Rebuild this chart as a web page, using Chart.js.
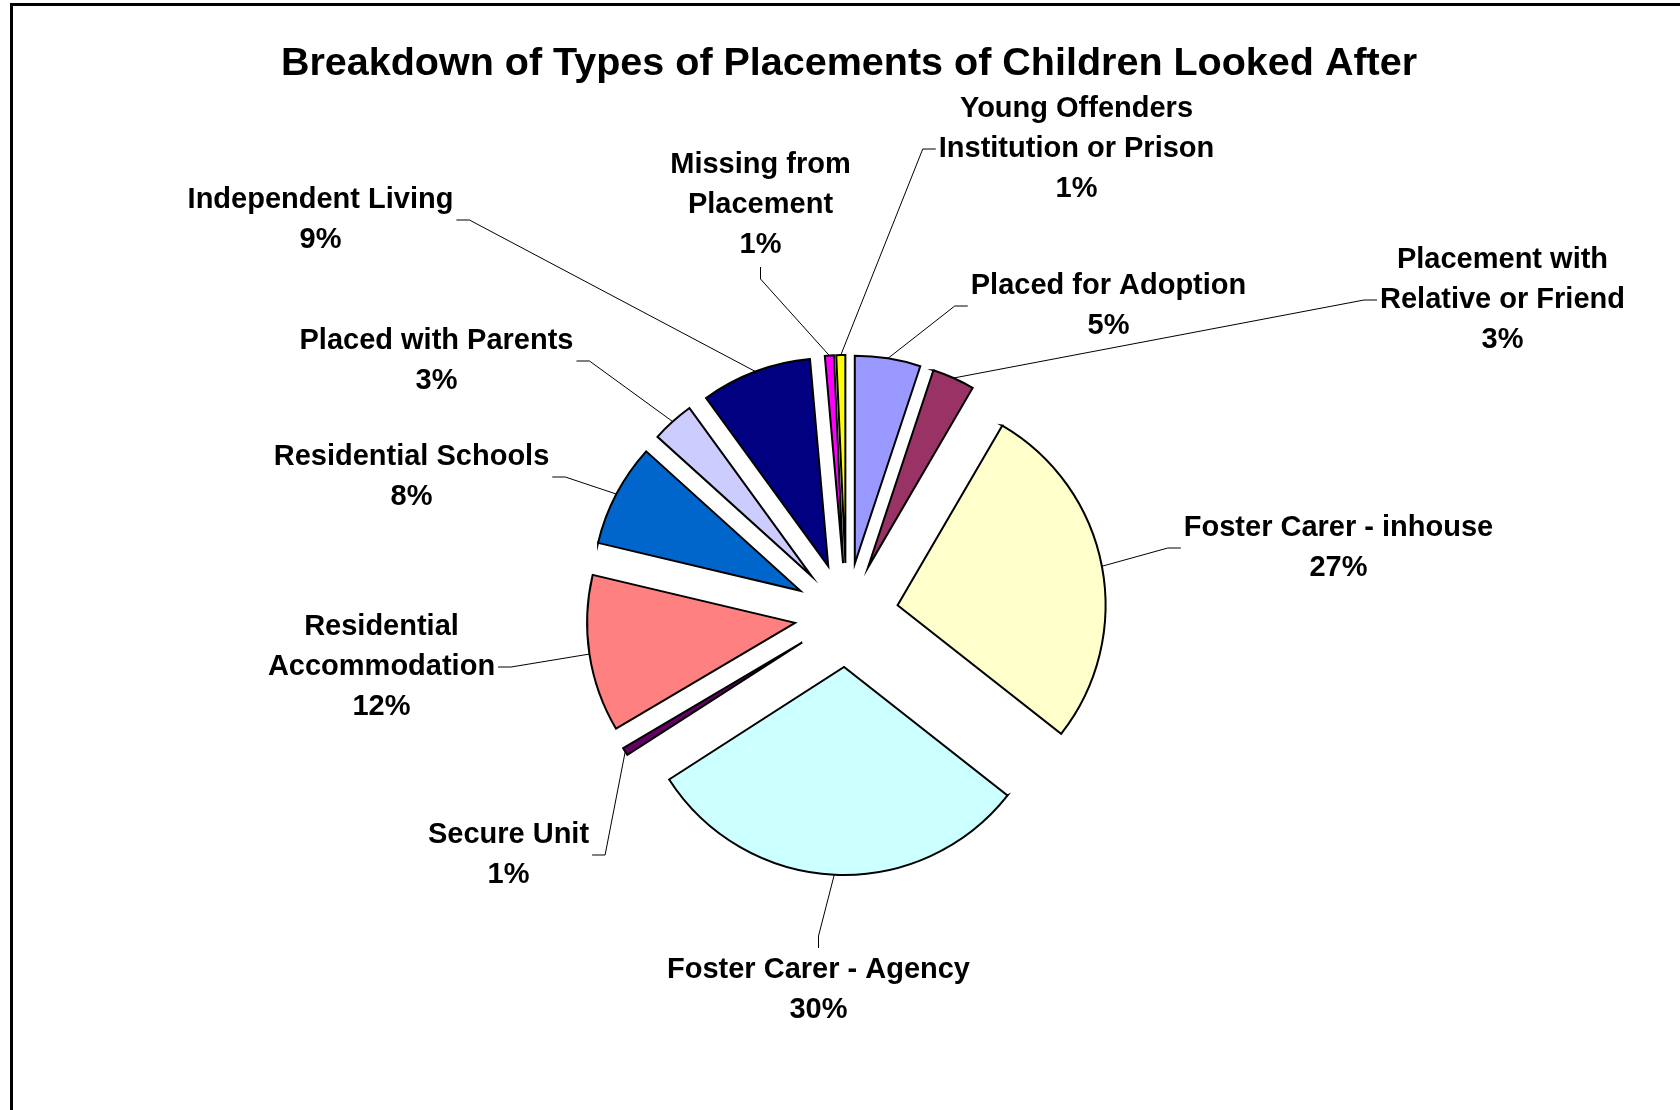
<!DOCTYPE html>
<html lang="en">
<head>
    <meta charset="UTF-8">
    <title>Breakdown of Types of Placements of Children Looked After</title>
    <script src="https://cdn.jsdelivr.net/npm/chart.js"></script>
    <style>
        html, body {
            margin: 0;
            padding: 0;
            background: #fff;
            overflow: hidden;
        }

        .chart-box {
            position: relative;
            width: 1680px;
            height: 1110px;
            overflow: hidden;
        }

        /* only the top and left edges of the outer frame are in the picture */
        .frame {
            position: absolute;
            left: 10px;
            top: 3px;
            width: 1700px;
            height: 1200px;
            border-top: 3px solid #000;
            border-left: 3px solid #000;
        }
    </style>
</head>
<body>
    <div class="chart-box">
        <div class="frame"></div>
        <canvas id="placementsChart"></canvas>
    </div>
    <script>
        // Data
        const categories = [
            'Placed for Adoption',
            ['Placement with', 'Relative or Friend'],
            'Foster Carer - inhouse',
            'Foster Carer - Agency',
            'Secure Unit',
            ['Residential', 'Accommodation'],
            'Residential Schools',
            'Placed with Parents',
            'Independent Living',
            ['Missing from', 'Placement'],
            ['Young Offenders', 'Institution or Prison']
        ];
        const shares = [5.1, 3.3, 27.2, 30.3, 0.6, 12.2, 8.0, 3.3, 8.6, 0.7, 0.7];
        const sliceColours = [
            '#9999FF', '#993366', '#FFFFCC', '#CCFFFF', '#660066', '#FF8080',
            '#0066CC', '#CCCCFF', '#000080', '#FF00FF', '#FFFF00'
        ];

        // Layout / style
        const TITLE = 'Breakdown of Types of Placements of Children Looked After';
        const FONT = '"Liberation Sans", Arial, sans-serif';
        const EXPLODE = 52;
        const PIE_RADIUS = 208;
        const LABEL_SIZE = 29;
        const LINE_HEIGHT = 40;
        // label centres, relative to the pie centre
        const labelOffsets = [
            [262, -309], [656, -315], [492, -67], [-28, 375], [-338, 240], [-465, 52],
            [-435, -138], [-410, -254], [-526, -395], [-86, -410], [230, -466]
        ];

        // pulls every slice out along its middle angle
        const explodeSlices = {
            id: 'explodeSlices',
            afterDatasetUpdate(chart, args) {
                args.meta.data.forEach(arc => {
                    const mid = (arc.startAngle + arc.endAngle) / 2;
                    arc.x += Math.cos(mid) * EXPLODE;
                    arc.y += Math.sin(mid) * EXPLODE;
                });
            }
        };

        // title, data labels and leader lines
        const sliceLabels = {
            id: 'sliceLabels',
            afterDatasetsDraw(chart) {
                const ctx = chart.ctx;
                const area = chart.chartArea;
                const cx = (area.left + area.right) / 2;
                const cy = (area.top + area.bottom) / 2;
                const total = shares.reduce((a, b) => a + b, 0);
                const meta = chart.getDatasetMeta(0);

                ctx.save();
                ctx.fillStyle = '#000';
                ctx.textAlign = 'center';
                ctx.textBaseline = 'middle';

                ctx.font = 'bold 39.5px ' + FONT;
                ctx.fillText(TITLE, 849, 64);

                ctx.font = 'bold ' + LABEL_SIZE + 'px ' + FONT;
                ctx.strokeStyle = '#000';
                ctx.lineWidth = 1;

                meta.data.forEach((arc, i) => {
                    const lines = [].concat(categories[i], Math.round(shares[i] / total * 100) + '%');
                    const lx = cx + labelOffsets[i][0];
                    const ly = cy + labelOffsets[i][1];
                    const w = Math.max(...lines.map(t => ctx.measureText(t).width));
                    const h = lines.length * LINE_HEIGHT;

                    lines.forEach((t, k) => {
                        ctx.fillText(t, lx, ly - h / 2 + LINE_HEIGHT * (k + 0.5));
                    });

                    // leader line: from the label edge, short elbow, then to the arc middle
                    const mid = (arc.startAngle + arc.endAngle) / 2;
                    const px = arc.x + Math.cos(mid) * arc.outerRadius;
                    const py = arc.y + Math.sin(mid) * arc.outerRadius;
                    const left = lx - w / 2 - 3, right = lx + w / 2 + 3;
                    const top = ly - h / 2 - 2, bottom = ly + h / 2 + 2;
                    let a, b;
                    if (px > left && px < right) {
                        if (py > bottom) {
                            a = [lx, bottom];
                            b = [lx, bottom + 12];
                        } else {
                            a = [lx, top];
                            b = [lx, top - 12];
                        }
                    } else if (px <= left) {
                        a = [left, ly];
                        b = [left - 13, ly];
                    } else {
                        a = [right, ly];
                        b = [right + 13, ly];
                    }
                    ctx.beginPath();
                    ctx.moveTo(a[0], a[1]);
                    ctx.lineTo(b[0], b[1]);
                    ctx.lineTo(px, py);
                    ctx.stroke();
                });
                ctx.restore();
            }
        };

        new Chart(document.getElementById('placementsChart'), {
            type: 'pie',
            data: {
                labels: categories,
                datasets: [{
                    data: shares,
                    backgroundColor: sliceColours,
                    borderColor: '#000',
                    borderWidth: 2,
                    borderJoinStyle: 'miter',
                    hoverOffset: 0
                }]
            },
            options: {
                responsive: true,
                maintainAspectRatio: false,
                animation: false,
                events: [],
                radius: PIE_RADIUS,
                layout: {
                    padding: { left: 13, right: 0, top: 120, bottom: 0 }
                },
                plugins: {
                    legend: { display: false },
                    title: { display: false },
                    tooltip: { enabled: false }
                }
            },
            plugins: [explodeSlices, sliceLabels]
        });
    </script>
</body>
</html>
